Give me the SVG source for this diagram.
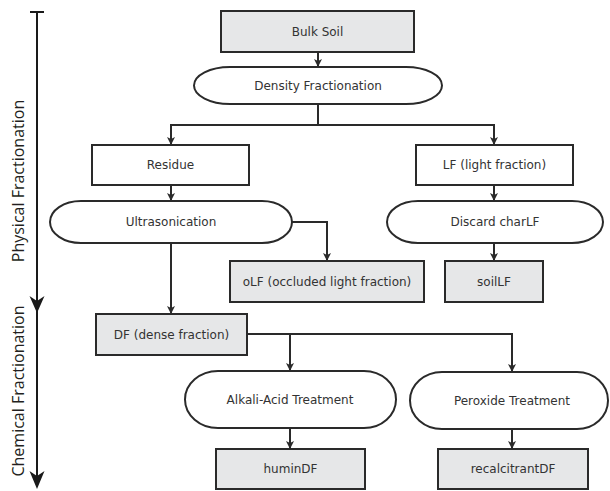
<svg xmlns="http://www.w3.org/2000/svg" width="610" height="491" viewBox="0 0 610 491">
<defs>
<marker id="ah" markerUnits="userSpaceOnUse" markerWidth="10" markerHeight="10" refX="8" refY="4" orient="auto">
<path d="M0,0 L8,4 L0,8 L2,4 z" fill="#2a2a2a"/>
</marker>
<marker id="big" markerUnits="userSpaceOnUse" markerWidth="16" markerHeight="24" refX="20" refY="7.5" orient="auto">
<path d="M0,0 L20,7.5 L0,15 L5,7.5 z" fill="#1a1a1a"/>
</marker>
<style>
.box{fill:#ffffff;stroke:#2a2a2a;stroke-width:2}
.gray{fill:#e6e7e8}
.t{font-family:"DejaVu Sans",Verdana,sans-serif;font-size:12px;fill:#333;text-anchor:middle;dominant-baseline:central}
.ax{font-family:"Open Sans","DejaVu Sans",sans-serif;font-size:16px;fill:#231f20;text-anchor:middle}
.c{fill:none;stroke:#2a2a2a;stroke-width:2}
.ca{fill:none;stroke:#2a2a2a;stroke-width:2;marker-end:url(#ah)}
</style>
</defs>
<rect width="610" height="491" fill="#ffffff"/>

<g id="axis">
<line x1="30" y1="12" x2="44" y2="12" stroke="#1a1a1a" stroke-width="2"/>
<line x1="37" y1="12" x2="37" y2="300" stroke="#1a1a1a" stroke-width="2"/>
<path d="M29.5,296 L37,313 L44.5,296 L37,301 z" fill="#1a1a1a"/>
<line x1="37" y1="300" x2="37" y2="478" stroke="#1a1a1a" stroke-width="2"/>
<path d="M29.5,471 L37,489 L44.5,471 L37,476 z" fill="#1a1a1a"/>
<text class="ax" transform="translate(24,181) rotate(-90)">Physical Fractionation</text>
<text class="ax" transform="translate(24,391) rotate(-90)">Chemical Fractionation</text>
</g>

<g id="connectors">
<line class="ca" x1="318" y1="52" x2="318" y2="67"/>
<polyline class="c" points="318,104 318,125"/>
<polyline class="c" points="171,125 494,125"/>
<polyline class="ca" points="171,124 171,145"/>
<polyline class="ca" points="494,124 494,145"/>
<line class="ca" x1="171" y1="185" x2="171" y2="201"/>
<line class="ca" x1="494" y1="185" x2="494" y2="201"/>
<polyline class="ca" points="292,222 327,222 327,261"/>
<line class="ca" x1="171" y1="243" x2="171" y2="314"/>
<line class="ca" x1="494" y1="243" x2="494" y2="261"/>
<polyline class="ca" points="247,334 512,334 512,372"/>
<line class="ca" x1="290" y1="334" x2="290" y2="371"/>
<line class="ca" x1="290" y1="428" x2="290" y2="449"/>
<line class="ca" x1="512" y1="429" x2="512" y2="449"/>
</g>

<g id="bulk-soil">
<rect class="box gray" x="221" y="11" width="193" height="41"/>
<text class="t" x="317.5" y="31.5">Bulk Soil</text>
</g>

<g id="density-fractionation">
<path class="box" d="M230,67 H406 A36,18.5 0 0 1 406,104 H230 A36,18.5 0 0 1 230,67 z"/>
<text class="t" x="318" y="85.5">Density Fractionation</text>
</g>

<g id="residue">
<rect class="box" x="92" y="145" width="157" height="40"/>
<text class="t" x="170.5" y="165">Residue</text>
</g>

<g id="lf">
<rect class="box" x="416" y="145" width="157" height="40"/>
<text class="t" x="494.5" y="165">LF (light fraction)</text>
</g>

<g id="ultrasonication">
<path class="box" d="M81,201 H262 A30,21 0 0 1 262,243 H81 A31,21 0 0 1 81,201 z"/>
<text class="t" x="171" y="222">Ultrasonication</text>
</g>

<g id="discard-charlf">
<path class="box" d="M418,201 H572 A31,21 0 0 1 572,243 H418 A31,21 0 0 1 418,201 z"/>
<text class="t" x="495" y="222">Discard charLF</text>
</g>

<g id="olf">
<rect class="box gray" x="230" y="261" width="194" height="41"/>
<text class="t" x="327" y="281.5">oLF (occluded light fraction)</text>
</g>

<g id="soillf">
<rect class="box gray" x="445" y="261" width="98" height="41"/>
<text class="t" x="494" y="281.5">soilLF</text>
</g>

<g id="df">
<rect class="box gray" x="96" y="314" width="151" height="41"/>
<text class="t" x="171.5" y="334.5">DF (dense fraction)</text>
</g>

<g id="alkali-acid">
<path class="box" d="M218,371 H364 A32,28.5 0 0 1 364,428 H218 A33,28.5 0 0 1 218,371 z"/>
<text class="t" x="290" y="399.5">Alkali-Acid Treatment</text>
</g>

<g id="peroxide">
<path class="box" d="M442,372 H577 A31,28.5 0 0 1 577,429 H442 A32,28.5 0 0 1 442,372 z"/>
<text class="t" x="512" y="400.5">Peroxide Treatment</text>
</g>

<g id="humindf">
<rect class="box gray" x="216" y="449" width="149" height="40"/>
<text class="t" x="290.5" y="469">huminDF</text>
</g>

<g id="recalcitrantdf">
<rect class="box gray" x="438" y="449" width="150" height="40"/>
<text class="t" x="513" y="469">recalcitrantDF</text>
</g>
</svg>
